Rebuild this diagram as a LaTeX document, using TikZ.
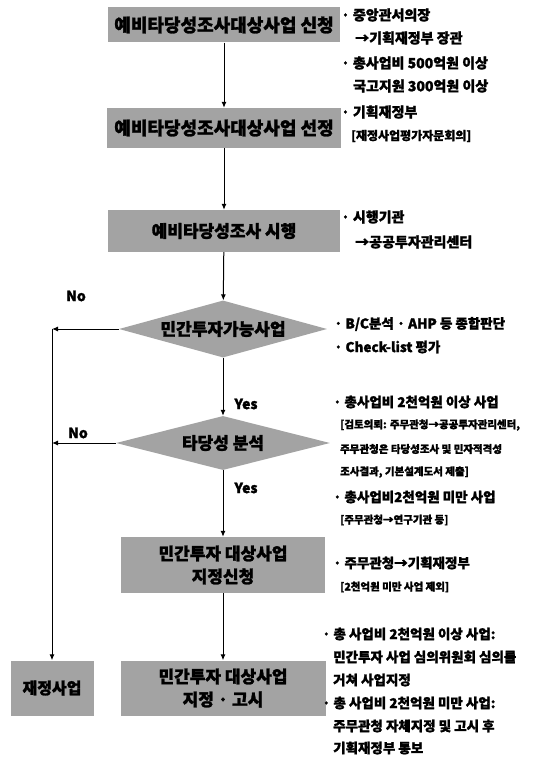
\documentclass[tikz,border=0pt]{standalone}
\usepackage{fontspec}
\setmainfont{Noto Sans CJK KR}[BoldFeatures={FakeBold=1.5}]
\usetikzlibrary{shapes.geometric,arrows.meta}
\begin{document}
\begin{tikzpicture}[x=1pt,y=-1pt,
  boxst/.style={fill=black!36, inner sep=0pt, align=center, font=\bfseries\fontsize{17}{23}\selectfont},
  dia/.style={diamond, aspect=3.65, fill=black!36, inner sep=0pt, font=\bfseries\fontsize{17}{20}\selectfont},
  arr/.style={line width=1pt, -{Latex[length=6pt,width=5pt]}},
  rt/.style={anchor=west, inner sep=0pt, font=\bfseries\fontsize{14}{16}\selectfont},
  rtl/.style={anchor=west, inner sep=0pt, font=\bfseries\fontsize{13.5}{16}\selectfont},
  rts/.style={anchor=west, inner sep=0pt, font=\bfseries\fontsize{10.5}{14}\selectfont},
  lab/.style={inner sep=0pt, font=\bfseries\fontsize{14}{16}\selectfont}]
\useasboundingbox (0,0) rectangle (553,759);

% main flow
\node[boxst, minimum width=232pt, minimum height=35pt, font=\bfseries\fontsize{18}{20}\selectfont] (b1) at (224,25) {예비타당성조사대상사업 신청};
\node[boxst, minimum width=234pt, minimum height=40pt, font=\bfseries\fontsize{18}{20}\selectfont] (b2) at (224,128) {예비타당성조사대상사업 선정};
\node[boxst, minimum width=232pt, minimum height=42pt] (b3) at (224,231) {예비타당성조사 시행};
\node[dia, minimum width=208pt, minimum height=57pt] (d1) at (223,329) {민간투자가능사업};
\node[dia, minimum width=214pt, minimum height=54pt] (d2) at (223,443) {타당성 분석};
\node[boxst, minimum width=204pt, minimum height=56pt] (b5) at (223,565) {민간투자 대상사업\\지정신청};
\node[boxst, minimum width=205pt, minimum height=55pt] (b6) at (223,688) {민간투자 대상사업\\지정 · 고시};
\node[boxst, minimum width=83pt, minimum height=55pt, font=\bfseries\fontsize{16}{20}\selectfont] (b7) at (52,688) {재정사업};

\draw[arr] (b1) -- (b2);
\draw[arr] (b2) -- (b3);
\draw[arr] (b3) -- (d1);
\draw[arr] (d1) -- (d2);
\draw[arr] (d2) -- (b5);
\draw[arr] (b5) -- (b6);

\coordinate (n1) at (b7.north |- d1.west);
\coordinate (n2) at (b7.north |- d2.west);
\draw[arr] (d1.west) -- (n1);
\draw[arr] (d2.west) -- (n2);
\draw[arr] (n1) -- (b7);

\node[lab] (no1) at (76,296) {No};
\node[lab] (no2) at (78,433) {No};
\node[lab] (yes1) at (246,404) {Yes};
\node[lab] (yes2) at (246,488) {Yes};

% right-side notes
\node[rt] (t1) at (341,15) {· 중앙관서의장};
\node[rt] (t2) at (355,38) {→기획재정부 장관};
\node[rt] (t3) at (341,63) {· 총사업비 500억원 이상};
\node[rt] (t4) at (353,86) {국고지원 300억원 이상};
\node[rt] (t5) at (341,112) {· 기획재정부};
\node[rts, font=\bfseries\fontsize{12}{14}\selectfont] (t6) at (351,136) {[재정사업평가자문회의]};
\node[rt] (t7) at (341,217) {· 시행기관};
\node[rt] (t8) at (355,242) {→공공투자관리센터};
\node[rtl] (t9) at (334,324) {· B/C분석 · AHP 등 종합판단};
\node[rtl] (t10) at (334,347) {· Check-list 평가};
\node[rtl] (t11) at (333,402) {· 총사업비 2천억원 이상 사업};
\node[rts] (t12) at (340,425) {[검토의뢰: 주무관청→공공투자관리센터,};
\node[rts] (t13) at (340,449) {주무관청은 타당성조사 및 민자적격성};
\node[rts] (t14) at (340,472) {조사결과, 기본설계도서 제출]};
\node[rtl] (t15) at (333,497) {· 총사업비2천억원 미만 사업};
\node[rts] (t16) at (340,520) {[주무관청→연구기관 등]};
\node[rtl] (t17) at (333,563) {· 주무관청→기획재정부};
\node[rts] (t18) at (340,587) {[2천억원 미만 사업 제외]};
\node[rtl] (t19) at (322,634) {· 총 사업비 2천억원 이상 사업:};
\node[rtl] (t20) at (333,657) {민간투자 사업 심의위원회 심의를};
\node[rtl] (t21) at (333,680) {거쳐 사업지정};
\node[rtl] (t22) at (322,703) {· 총 사업비 2천억원 미만 사업:};
\node[rtl] (t23) at (333,726) {주무관청 자체지정 및 고시 후};
\node[rtl] (t24) at (333,748) {기획재정부 통보};
\end{tikzpicture}
\end{document}
